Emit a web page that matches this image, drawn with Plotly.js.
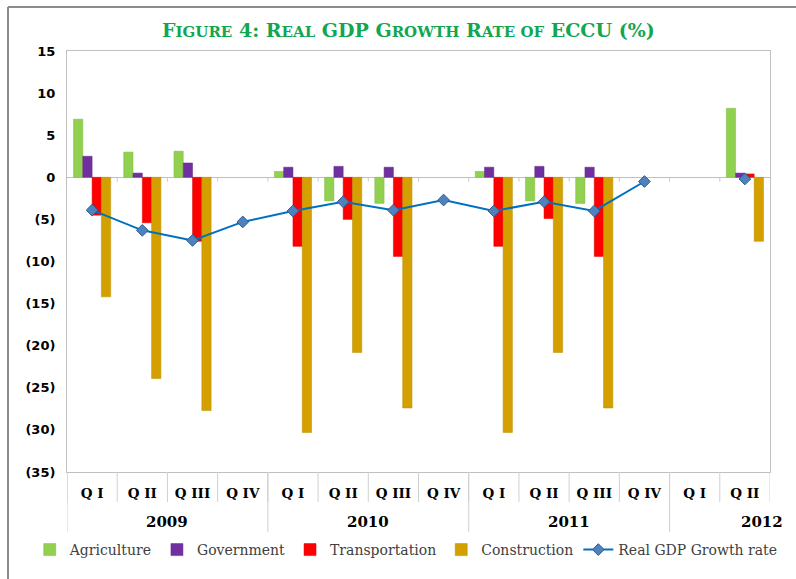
<!DOCTYPE html>
<html>
<head>
<meta charset="utf-8">
<script src="https://cdn.plot.ly/plotly-3.0.1.min.js"></script>
<style>
html,body{margin:0;padding:0;background:#fff;}
#chart{width:796px;height:579px;}
</style>
</head>
<body>
<div id="chart"></div>
<script>
var years = ["2009","2010","2011","2012"];
var quarters = ["Q I","Q II","Q III","Q IV"];
var periodYears = ["2009","2009","2009","2009","2010","2010","2010","2010","2011","2011","2011","2011","2012","2012"];
var periodQuarters = ["Q I","Q II","Q III","Q IV","Q I","Q II","Q III","Q IV","Q I","Q II","Q III","Q IV","Q I","Q II"];

var agriculture    = [6.9, 3.0, 3.1, null, 0.7, -2.8, -3.1, null, 0.7, -2.8, -3.1, null, null, 8.2];
var government     = [2.5, 0.5, 1.7, null, 1.2, 1.3, 1.2, null, 1.2, 1.3, 1.2, null, null, 0.5];
var transportation = [-4.5, -5.4, -7.6, null, -8.2, -5.0, -9.4, null, -8.2, -4.9, -9.4, null, null, 0.4];
var construction   = [-14.2, -23.9, -27.7, null, -30.3, -20.8, -27.4, null, -30.3, -20.8, -27.4, null, null, -7.6];
var gdpGrowth      = [-3.9, -6.3, -7.5, -5.3, -4.0, -2.9, -3.9, -2.7, -4.0, -2.9, -4.0, -0.5, null, -0.2];

var yTickVals = [15, 10, 5, 0, -5, -10, -15, -20, -25, -30, -35];
var yTickText = ["15", "10", "5", "0", "(5)", "(10)", "(15)", "(20)", "(25)", "(30)", "(35)"];

var cats = periodYears.map(function(y, i){ return y + " " + periodQuarters[i]; });

var barCommon = {type: 'bar', x: cats, hoverinfo: 'y+name'};
var traces = [
  Object.assign({}, barCommon, {name: 'Agriculture', y: agriculture, marker: {color: '#92D050', line: {color: '#7fb843', width: 0.5}}}),
  Object.assign({}, barCommon, {name: 'Government', y: government, marker: {color: '#7030A0', line: {color: '#5f2888', width: 0.5}}}),
  Object.assign({}, barCommon, {name: 'Transportation', y: transportation, marker: {color: '#FF0000', line: {color: '#d90000', width: 0.5}}}),
  Object.assign({}, barCommon, {name: 'Construction', y: construction, marker: {color: '#D4A000', line: {color: '#b88a00', width: 0.5}}}),
  {type: 'scatter', mode: 'lines+markers', name: 'Real GDP Growth rate', x: cats, y: gdpGrowth,
   connectgaps: false,
   line: {color: '#0070C0', width: 2},
   marker: {symbol: 'diamond', size: 9, color: '#4F81BD', line: {color: '#2c5d8f', width: 1}}}
];

var plotH = 579 - 51 - 107;
var shapes = [];
// quarter boundary ticks below the plot, and small ticks on the zero line
for (var i = 0; i <= cats.length; i++) {
  shapes.push({type: 'line', xref: 'x', yref: 'paper', x0: i - 0.5, x1: i - 0.5, y0: 0, y1: -30 / plotH,
               line: {color: '#d0d0d0', width: 1}});
  if (i > 0 && i < cats.length) {
    shapes.push({type: 'line', xref: 'x', yref: 'y', x0: i - 0.5, x1: i - 0.5, y0: 0, y1: -0.5,
                 line: {color: '#c8c8c8', width: 1}});
  }
}
// year dividers
var yearStart = [];
periodYears.forEach(function(y, i){ if (i === 0 || periodYears[i-1] !== y) yearStart.push(i); });
yearStart.forEach(function(i){
  shapes.push({type: 'line', xref: 'x', yref: 'paper', x0: i - 0.5, x1: i - 0.5, y0: 0, y1: -60 / plotH,
               line: {color: '#d0d0d0', width: 1}});
});
// outer frame
shapes.push({type: 'line', xref: 'paper', yref: 'paper', x0: -59/703, x1: 729/703, y0: (472-7)/plotH, y1: (472-7)/plotH, line: {color: '#8c8c8c', width: 2}});
shapes.push({type: 'line', xref: 'paper', yref: 'paper', x0: -59/703, x1: -59/703, y0: (472-7)/plotH, y1: (472-579)/plotH, line: {color: '#8c8c8c', width: 2}});

var annotations = [];
years.forEach(function(y){
  var idx = [];
  periodYears.forEach(function(py, i){ if (py === y) idx.push(i); });
  var center = (idx[0] + idx[idx.length-1]) / 2;
  annotations.push({xref: 'x', yref: 'paper', x: center, y: -50 / plotH, yanchor: 'middle', xanchor: 'center',
    xshift: (idx.length < 4 ? 42 : 0),
    text: y, showarrow: false, font: {family: 'DejaVu Serif', size: 15, weight: 'bold', color: '#000'}});
});

function sc(t){ return "<span style='font-size:15px'>" + t + "</span>"; }
var titleText = "F" + sc("IGURE") + " 4: R" + sc("EAL") + " GDP G" + sc("ROWTH") + " R" + sc("ATE OF") + " ECCU (%)";

var layout = {
  width: 796, height: 579,
  margin: {l: 67, r: 26, t: 51, b: 107},
  paper_bgcolor: '#ffffff', plot_bgcolor: '#ffffff',
  title: {text: titleText, x: 0.513, xanchor: 'center', y: 0.947, yanchor: 'middle',
          font: {family: 'DejaVu Serif', size: 19, weight: 'bold', color: '#12A650'}},
  barmode: 'group', bargap: 0.26, bargroupgap: 0,
  showlegend: true,
  legend: {orientation: 'h', x: -0.053, xanchor: 'left', y: -78 / plotH, yanchor: 'middle',
           font: {family: 'DejaVu Serif', size: 14, color: '#404040'}, traceorder: 'normal'},
  xaxis: {type: 'category', categoryorder: 'array', categoryarray: cats,
          tickvals: cats, ticktext: periodQuarters, ticks: '', ticklabelstandoff: 9,
          tickfont: {family: 'DejaVu Serif', size: 13.5, weight: 'bold', color: '#000'},
          showline: true, linecolor: '#bfbfbf', linewidth: 1, mirror: true, showgrid: false,
          range: [-0.5, cats.length - 0.5], fixedrange: true},
  yaxis: {range: [-35, 15], tickvals: yTickVals, ticktext: yTickText, ticks: '',
          tickfont: {family: 'DejaVu Sans', size: 13, weight: 'bold', color: '#000'},
          showgrid: false, zeroline: true, zerolinecolor: '#bfbfbf', zerolinewidth: 1,
          showline: true, linecolor: '#bfbfbf', linewidth: 1, mirror: true, ticklabelstandoff: 8, fixedrange: true},
  shapes: shapes,
  annotations: annotations
};

Plotly.newPlot('chart', traces, layout, {displayModeBar: false, staticPlot: true});
</script>
</body>
</html>
